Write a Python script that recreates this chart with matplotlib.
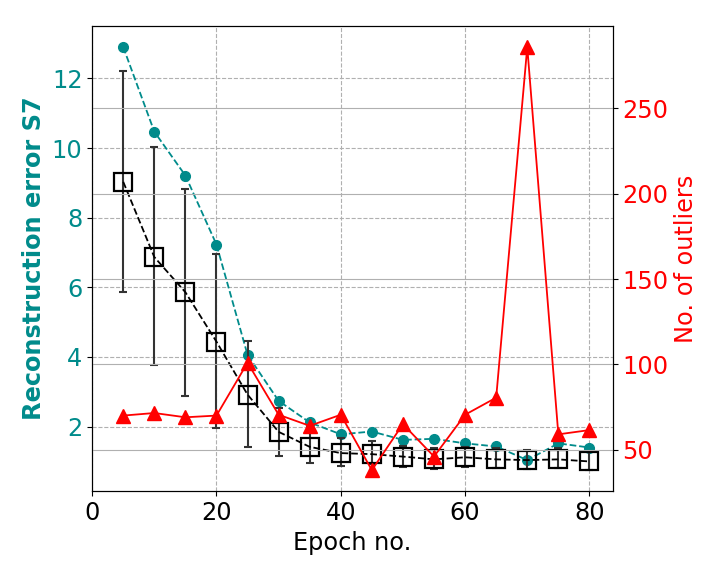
import numpy as np
import matplotlib
matplotlib.use('Agg')
import matplotlib.pyplot as plt

# 数据：每5个epoch记录一次
epochs = [5, 10, 15, 20, 25, 30, 35, 40, 45, 50, 55, 60, 65, 70, 75, 80]
mean_err = [12.90, 10.47, 9.21, 7.23, 4.06, 2.74, 2.12, 1.78,
            1.86, 1.62, 1.65, 1.52, 1.43, 1.04, 1.52, 1.40]
median_err = [9.03, 6.87, 5.86, 4.44, 2.92, 1.85, 1.42, 1.24,
              1.21, 1.14, 1.06, 1.12, 1.06, 1.04, 1.06, 1.00]
err_upper = [12.22, 10.03, 8.82, 6.95, 4.45, 2.54, 2.00, 1.67,
             1.58, 1.45, 1.40, 1.42, 1.39, 1.34, 1.38, 1.29]
err_lower = [5.86, 3.76, 2.89, 1.96, 1.41, 1.17, 0.97, 0.88,
             0.93, 0.83, 0.78, 0.85, 0.81, 0.78, 0.81, 0.75]
outliers = [70, 71.5, 69, 70, 101, 70.5, 64, 70.5,
            38, 65, 46, 70.5, 80.5, 286, 59, 61.5]

median_err = np.array(median_err)
yerr = [median_err - np.array(err_lower), np.array(err_upper) - median_err]

fs = 17.3
fig = plt.figure(figsize=(7.2, 5.76), dpi=100)
ax1 = fig.add_axes([0.128, 0.147, 0.723, 0.808])

ax1.plot(epochs, mean_err, '--o', color='darkcyan', lw=1.3, ms=7)
ax1.errorbar(epochs, median_err, yerr=yerr, fmt='none', ecolor='#333333',
             elinewidth=1.5, capsize=3, capthick=1.5)
ax1.plot(epochs, median_err, '--s', color='black', lw=1.3, ms=13,
         mfc='none', mew=1.6)
ax1.set_xlim(left=0)
ax1.grid(True, linestyle='--', color='#b0b0b0', lw=0.8)
ax1.set_xlabel('Epoch no.', fontsize=fs)
ax1.set_ylabel('Reconstruction error S7', fontsize=fs, color='darkcyan',
               fontweight='bold')
ax1.tick_params(axis='y', labelcolor='darkcyan', labelsize=fs)
ax1.tick_params(axis='x', labelsize=fs)

ax2 = ax1.twinx()
ax2.plot(epochs, outliers, '-^', color='red', lw=1.3, ms=10)
ax2.grid(True, color='#b0b0b0', lw=0.8)
ax2.set_ylabel('No. of outliers', fontsize=fs, color='red')
ax2.tick_params(axis='y', labelcolor='red', labelsize=fs)

plt.savefig('out.png', dpi=100)
